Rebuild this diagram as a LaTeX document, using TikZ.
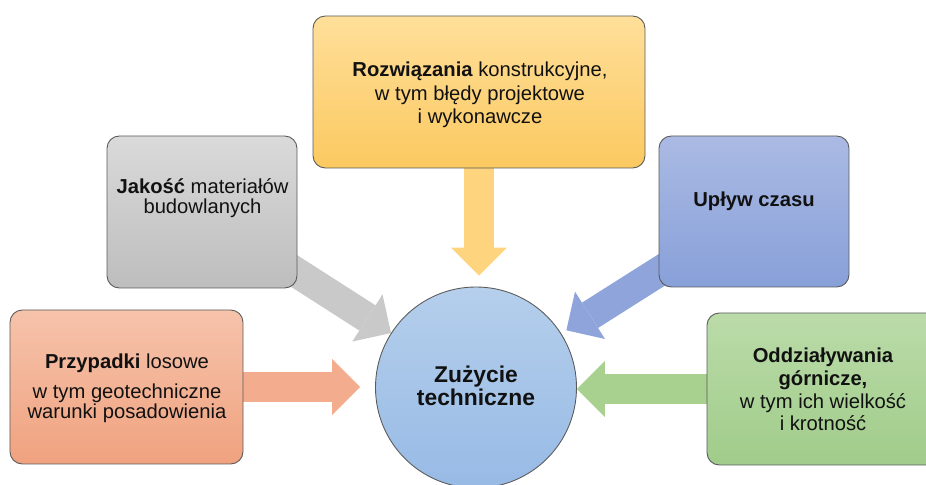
\documentclass[tikz,border=0pt]{standalone}
\usepackage{fontspec}
\setmainfont{Liberation Sans}
\usepackage{tikz}
\usetikzlibrary{arrows.meta,positioning,backgrounds}
\definecolor{zuborder}{HTML}{5A5A5A}
\definecolor{zutext}{HTML}{111111}
\definecolor{orangetop}{HTML}{F6C3AB}
\definecolor{orangebot}{HTML}{F0A27F}
\definecolor{graytop}{HTML}{DADADA}
\definecolor{graybot}{HTML}{BDBDBD}
\definecolor{yellowtop}{HTML}{FFDF9A}
\definecolor{yellowbot}{HTML}{FBC960}
\definecolor{bluetop}{HTML}{AABAE3}
\definecolor{bluebot}{HTML}{88A0D9}
\definecolor{greentop}{HTML}{BBDBA9}
\definecolor{greenbot}{HTML}{A0CC8A}
\definecolor{circtop}{HTML}{B5CFEC}
\definecolor{circbot}{HTML}{97BAE5}
\definecolor{arrorange}{HTML}{F4AC8E}
\definecolor{arrgray}{HTML}{C9C9C9}
\definecolor{arryellow}{HTML}{FED47E}
\definecolor{arrblue}{HTML}{8EA4DB}
\definecolor{arrgreen}{HTML}{A8D08F}

\begin{document}
\begin{tikzpicture}[
  box/.style={draw=zuborder, rounded corners=7pt, line width=0.5pt,
              minimum height=3.04cm},
  txt/.style={align=center, inner sep=0pt, text=zutext,
              font={\fontsize{11.5}{13}\selectfont}},
  flow/.style={draw=#1, line width=0.6cm,
               -{Triangle[length=0.56cm, width=1.12cm, line width=0pt]}}
]
\useasboundingbox (0,0) rectangle (18.52,9.7);

\node[draw=zuborder, circle, line width=0.5pt, minimum size=4.02cm,
      top color=circtop, bottom color=circbot] (zuz) at (9.52,1.95) {};
\node[txt, font={\fontsize{13}{13}\selectfont\bfseries}] (zuz-t) at (9.52,1.98)
  {Zużycie\\techniczne};

\node[box, minimum width=4.66cm, minimum height=3.08cm,
      top color=orangetop, bottom color=orangebot] (przyp) at (2.53,1.96) {};
\node[txt, font={\fontsize{11.5}{11.4}\selectfont}] (przyp-t) at (2.54,1.94)
  {\textbf{Przypadki} losowe\\[5.6pt] w tym geotechniczne\\warunki posadowienia};

\node[box, minimum width=3.8cm, top color=graytop, bottom color=graybot]
  (jak) at (4.04,5.46) {};
\node[txt, font={\fontsize{11.5}{11.4}\selectfont}] (jak-t) at (4.05,5.73)
  {\textbf{Jakość} materiałów\\budowlanych};

\node[box, minimum width=6.64cm, top color=yellowtop, bottom color=yellowbot]
  (roz) at (9.58,7.86) {};
\node[txt, font={\fontsize{11.5}{13.4}\selectfont}] (roz-t) at (9.6,7.8)
  {\textbf{Rozwiązania} konstrukcyjne,\\w tym błędy projektowe\\i wykonawcze};

\node[box, minimum width=3.8cm, minimum height=3.02cm,
      top color=bluetop, bottom color=bluebot] (upl) at (15.08,5.47) {};
\node[txt, anchor=base] (upl-t) at (15.08,5.56) {\textbf{Upływ czasu}};

\node[box, minimum width=4.64cm, top color=greentop, bottom color=greenbot]
  (odd) at (16.46,1.92) {};
\node[txt] (odd-t) at (16.46,1.91)
  {\textbf{Oddziaływania}\\\textbf{górnicze,}\\w tym ich wielkość\\i krotność};

%% arrows behind the boxes
\begin{scope}[on background layer]
  \draw[flow=arrgray] (jak.center) -- (zuz);
  \draw[flow=arrblue, shorten >=0.12cm] (upl.center) -- (zuz);
  \draw[flow=arrorange, shorten >=0.3cm] (przyp.east) -- (przyp.east -| zuz.west);
  \draw[flow=arrgreen] (odd.west) -- (odd.west -| zuz.east);
  \draw[flow=arryellow, shorten >=0.22cm] (roz.south) -- (roz.south |- zuz.north);
\end{scope}

\end{tikzpicture}
\end{document}
